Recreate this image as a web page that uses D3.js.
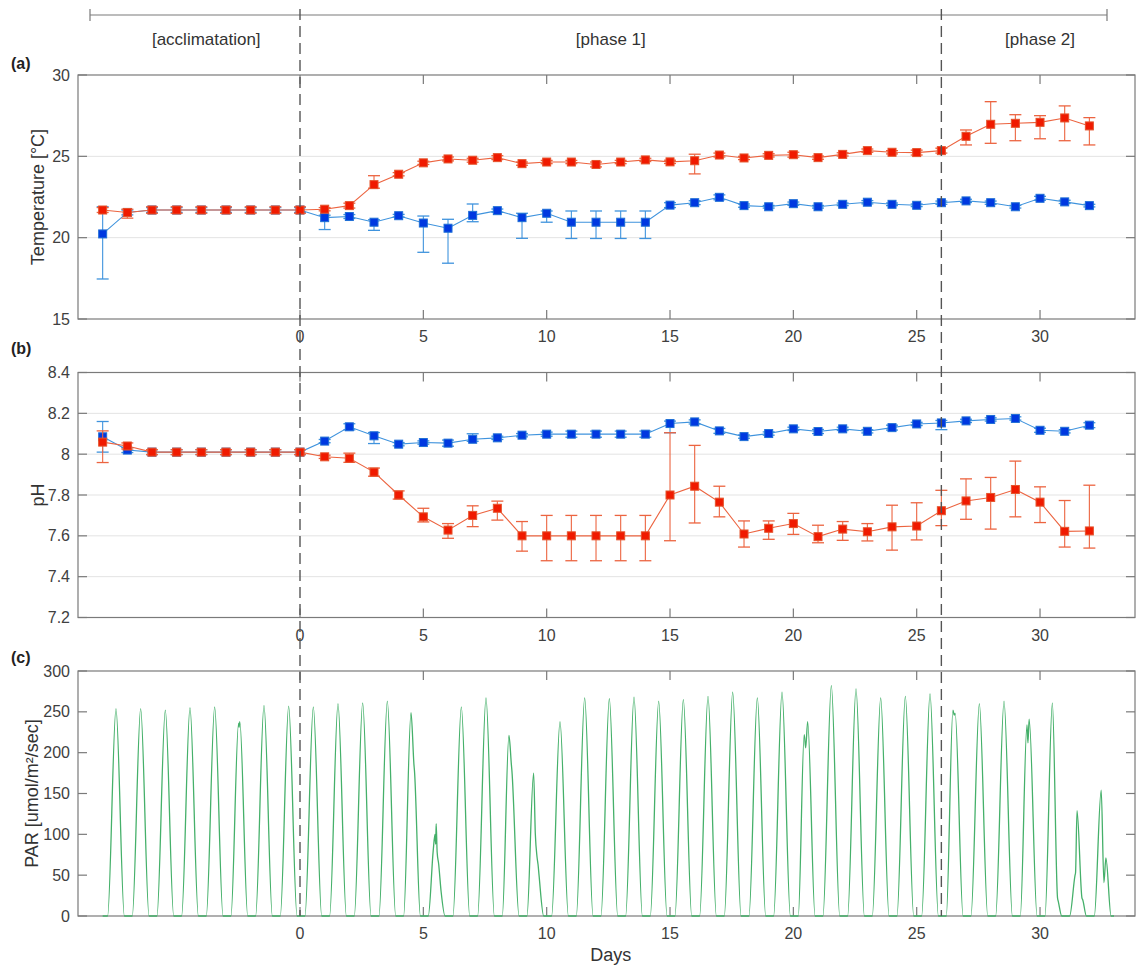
<!DOCTYPE html>
<html>
<head>
<meta charset="utf-8">
<script src="https://cdn.jsdelivr.net/npm/d3@7"></script>
<style>
  body { margin: 0; background: #fff; }
  text { font-family: "Liberation Sans", Arial, Helvetica, sans-serif; }
</style>
</head>
<body>
<script>
// ---- data ----
const days = [-8, -7, -6, -5, -4, -3, -2, -1, 0, 1, 2, 3, 4, 5, 6, 7, 8, 9, 10, 11, 12, 13, 14, 15, 16,
              17, 18, 19, 20, 21, 22, 23, 24, 25, 26, 27, 28, 29, 30, 31, 32];

// temperature, treatment (red)
const tempTreat = [21.7, 21.55, 21.7, 21.7, 21.7, 21.7, 21.7, 21.7, 21.7, 21.75, 21.97, 23.26, 23.9, 24.6, 24.84,
                   24.76, 24.92, 24.55, 24.65, 24.65, 24.5, 24.65, 24.78, 24.66, 24.73, 25.08, 24.9, 25.06, 25.1,
                   24.92, 25.12, 25.35, 25.25, 25.23, 25.35, 26.23, 26.97, 27.03, 27.09, 27.36, 26.87];
const tempTreatLo = [0.15, 0.35, 0.2, 0.2, 0.2, 0.2, 0.2, 0.2, 0.2, 0.1, 0.15, 0.22, 0.1, 0.1, 0.12, 0.12, 0.12,
                     0.1, 0.1, 0.1, 0.15, 0.1, 0.1, 0.1, 0.81, 0.12, 0.1, 0.1, 0.15, 0.1, 0.1, 0.1, 0.1, 0.15,
                     0.15, 0.53, 1.17, 1.07, 1.01, 1.4, 1.17];
const tempTreatHi = [0.15, 0.2, 0.2, 0.2, 0.2, 0.2, 0.2, 0.2, 0.2, 0.1, 0.15, 0.55, 0.1, 0.1, 0.12, 0.12, 0.12,
                     0.1, 0.1, 0.1, 0.15, 0.1, 0.1, 0.1, 0.4, 0.12, 0.1, 0.1, 0.15, 0.1, 0.1, 0.1, 0.1, 0.15,
                     0.15, 0.39, 1.39, 0.53, 0.41, 0.74, 0.51];

// temperature, control (blue)
const tempCtrl = [20.23, 21.55, 21.7, 21.7, 21.7, 21.7, 21.7, 21.7, 21.7, 21.23, 21.3, 20.95, 21.35, 20.9, 20.58,
                  21.37, 21.66, 21.23, 21.5, 20.95, 20.95, 20.95, 20.95, 22.0, 22.15, 22.48, 21.97, 21.9, 22.09,
                  21.9, 22.05, 22.18, 22.05, 21.99, 22.15, 22.26, 22.15, 21.9, 22.42, 22.2, 21.97];
const tempCtrlLo = [2.77, 0.15, 0.15, 0.15, 0.15, 0.15, 0.15, 0.15, 0.15, 0.73, 0.12, 0.5, 0.08, 1.8, 2.15, 0.39,
                    0.1, 1.27, 0.55, 1.0, 1.0, 1.0, 1.0, 0.15, 0.12, 0.15, 0.1, 0.08, 0.1, 0.08, 0.08, 0.1, 0.08,
                    0.08, 0.1, 0.1, 0.1, 0.08, 0.12, 0.1, 0.08];
const tempCtrlHi = [1.67, 0.15, 0.15, 0.15, 0.15, 0.15, 0.15, 0.15, 0.15, 0.15, 0.12, 0.15, 0.08, 0.43, 0.55, 0.7,
                    0.1, 0.27, 0.14, 0.69, 0.69, 0.69, 0.69, 0.15, 0.12, 0.15, 0.1, 0.08, 0.1, 0.08, 0.08, 0.1,
                    0.08, 0.08, 0.1, 0.1, 0.1, 0.08, 0.12, 0.1, 0.08];

// pH, treatment (red)
const phTreat = [8.059, 8.04, 8.01, 8.01, 8.01, 8.01, 8.01, 8.01, 8.01, 7.987, 7.98, 7.912, 7.80, 7.693, 7.628,
                 7.70, 7.735, 7.60, 7.60, 7.60, 7.60, 7.60, 7.60, 7.80, 7.843, 7.765, 7.609, 7.637, 7.66, 7.596,
                 7.633, 7.62, 7.644, 7.648, 7.723, 7.771, 7.788, 7.827, 7.765, 7.622, 7.624];
const phTreatLo = [0.1, 0.015, 0.012, 0.012, 0.012, 0.012, 0.012, 0.012, 0.012, 0.008, 0.02, 0.02, 0.02, 0.025,
                   0.04, 0.055, 0.058, 0.075, 0.122, 0.122, 0.122, 0.122, 0.122, 0.224, 0.18, 0.072, 0.064,
                   0.054, 0.053, 0.03, 0.055, 0.045, 0.114, 0.068, 0.073, 0.09, 0.155, 0.134, 0.1, 0.077, 0.084];
const phTreatHi = [0.055, 0.015, 0.012, 0.012, 0.012, 0.012, 0.012, 0.012, 0.012, 0.008, 0.025, 0.02, 0.02,
                   0.042, 0.032, 0.047, 0.035, 0.07, 0.10, 0.10, 0.10, 0.10, 0.10, 0.305, 0.2, 0.078, 0.064,
                   0.036, 0.05, 0.056, 0.037, 0.04, 0.106, 0.114, 0.1, 0.108, 0.098, 0.139, 0.075, 0.151, 0.224];

// pH, control (blue)
const phCtrl = [8.085, 8.02, 8.01, 8.01, 8.01, 8.01, 8.01, 8.01, 8.01, 8.064, 8.134, 8.09, 8.049, 8.057, 8.054,
                8.073, 8.08, 8.093, 8.098, 8.098, 8.098, 8.098, 8.098, 8.15, 8.158, 8.114, 8.086, 8.101, 8.124,
                8.111, 8.124, 8.112, 8.13, 8.148, 8.153, 8.163, 8.17, 8.175, 8.117, 8.112, 8.142];
const phCtrlLo = [0.075, 0.012, 0.012, 0.012, 0.012, 0.012, 0.012, 0.012, 0.012, 0.008, 0.015, 0.038, 0.008,
                  0.008, 0.015, 0.01, 0.008, 0.008, 0.01, 0.015, 0.015, 0.015, 0.015, 0.045, 0.01, 0.012, 0.008,
                  0.008, 0.008, 0.01, 0.008, 0.008, 0.012, 0.008, 0.033, 0.008, 0.008, 0.008, 0.01, 0.008, 0.012];
const phCtrlHi = [0.075, 0.012, 0.012, 0.012, 0.012, 0.012, 0.012, 0.012, 0.012, 0.008, 0.015, 0.016, 0.008,
                  0.008, 0.015, 0.027, 0.008, 0.008, 0.01, 0.015, 0.015, 0.015, 0.015, 0.012, 0.01, 0.012, 0.008,
                  0.008, 0.008, 0.01, 0.008, 0.008, 0.012, 0.008, 0.012, 0.008, 0.008, 0.008, 0.01, 0.008, 0.012];

// PAR: daily maximum, one per day
const parPeaks = [254, 254, 252, 255, 256, 238, 258, 257, 256, 260, 261, 263, 249, 113, 256, 267, 221, 175, 238,
                  267, 266, 268, 263, 265, 269, 274, 267, 274, 238, 282, 278, 267, 269, 272, 252, 260, 263, 241,
                  261, 129, 154];
// irregular days: extra readings [day, PAR]
const parDetail = new Map([
  [-3, [[-2.49, 236], [-2.47, 231], [-2.44, 238]]],
  [4,  [[4.50, 249], [4.62, 185], [4.64, 178]]],
  [5,  [[5.40, 80], [5.47, 100], [5.50, 88], [5.52, 113], [5.56, 78], [5.62, 64], [5.72, 30]]],
  [8,  [[8.47, 221], [8.57, 185], [8.59, 178]]],
  [9,  [[9.47, 175], [9.54, 100], [9.61, 72], [9.65, 63], [9.69, 50]]],
  [20, [[20.44, 222], [20.50, 206], [20.58, 238]]],
  [26, [[26.47, 252], [26.52, 246], [26.56, 248]]],
  [29, [[29.47, 234], [29.51, 212], [29.56, 241]]],
  [30, [[30.50, 261], [30.71, 22], [30.74, 18]]],
  [31, [[31.42, 50], [31.44, 53], [31.50, 129], [31.70, 22], [31.73, 20]]],
  [32, [[32.48, 154], [32.59, 41], [32.67, 71]]]
]);
const parRise = 0.20, parNoon = 0.54, parSet = 0.88;

const phases = [
  { label: "[acclimatation]", at: -3.8 },
  { label: "[phase 1]", at: 12.6 },
  { label: "[phase 2]", at: 30.0 }
];
const phaseBreaks = [0, 26];
const xTicks = [0, 5, 10, 15, 20, 25, 30];

// ---- layout ----
const width = 1137, height = 966;
const left = 78, right = 1135;
const axisCol = "#7a7a7a", textCol = "#404040";
const red = { line: "#ec6440", fill: "#f01a00", edge: "#e5532c" };
const blue = { line: "#3f93dd", fill: "#0038e0", edge: "#1f6fd6" };

const svg = d3.select("body").append("svg")
    .attr("width", width)
    .attr("height", height);

const x = d3.scaleLinear().domain([-9, 33.85]).range([left, right]);

// header with phases
let header = svg.append("g");
header.append("line")
    .attr("x1", 90).attr("x2", 1107).attr("y1", 15).attr("y2", 15)
    .attr("stroke", axisCol).attr("stroke-width", 1.2);
[90, 1107].forEach(px => {
  header.append("line")
      .attr("x1", px).attr("x2", px).attr("y1", 9).attr("y2", 21)
      .attr("stroke", axisCol).attr("stroke-width", 1.2);
});
header.selectAll(".phase")
    .data(phases)
    .enter().append("text")
    .attr("x", d => x(d.at))
    .attr("y", 45)
    .attr("text-anchor", "middle")
    .attr("font-size", 17)
    .attr("fill", "#333")
    .text(d => d.label);

function errorSeries(g, y, vals, lo, hi, col) {
  let s = g.append("g");
  s.append("path")
      .datum(days.map((d, i) => [d, vals[i]]))
      .attr("fill", "none")
      .attr("stroke", col.line)
      .attr("stroke-width", 1.1)
      .attr("d", d3.line().x(d => x(d[0])).y(d => y(d[1])));

  let eb = s.selectAll(".eb")
      .data(days.map((d, i) => ({ d: d, v: vals[i], lo: vals[i] - lo[i], hi: vals[i] + hi[i] })))
      .enter().append("g");
  eb.append("line")
      .attr("x1", d => x(d.d)).attr("x2", d => x(d.d))
      .attr("y1", d => y(d.lo)).attr("y2", d => y(d.hi))
      .attr("stroke", col.line).attr("stroke-width", 1.1);
  ["lo", "hi"].forEach(k => {
    eb.append("line")
        .attr("x1", d => x(d.d) - 6).attr("x2", d => x(d.d) + 6)
        .attr("y1", d => y(d[k])).attr("y2", d => y(d[k]))
        .attr("stroke", col.line).attr("stroke-width", 1.3);
  });
  eb.append("rect")
      .attr("x", d => x(d.d) - 4).attr("y", d => y(d.v) - 4)
      .attr("width", 8).attr("height", 8)
      .attr("fill", col.fill)
      .attr("stroke", col.edge).attr("stroke-width", 1);
}

function panel(cfg) {
  let y = d3.scaleLinear().domain(cfg.domain).range([cfg.bottom, cfg.top]);
  let g = svg.append("g");

  // grid
  g.selectAll(".grid")
      .data(cfg.grid)
      .enter().append("line")
      .attr("x1", left).attr("x2", right)
      .attr("y1", d => y(d)).attr("y2", d => y(d))
      .attr("stroke", "#e3e3e3").attr("stroke-width", 1);

  // box
  g.append("rect")
      .attr("x", left).attr("y", cfg.top)
      .attr("width", right - left).attr("height", cfg.bottom - cfg.top)
      .attr("fill", "none").attr("stroke", axisCol).attr("stroke-width", 1.2);

  // x ticks (inside, top and bottom)
  xTicks.forEach(t => {
    g.append("line").attr("x1", x(t)).attr("x2", x(t))
        .attr("y1", cfg.bottom).attr("y2", cfg.bottom - 9)
        .attr("stroke", axisCol).attr("stroke-width", 1.2);
    g.append("line").attr("x1", x(t)).attr("x2", x(t))
        .attr("y1", cfg.top).attr("y2", cfg.top + 9)
        .attr("stroke", axisCol).attr("stroke-width", 1.2);
  });
  g.selectAll(".xl")
      .data(xTicks)
      .enter().append("text")
      .attr("x", d => x(d))
      .attr("y", cfg.bottom + 23)
      .attr("text-anchor", "middle")
      .attr("font-size", 16)
      .attr("fill", textCol)
      .text(d => d);

  // y ticks (inside, left and right)
  cfg.ticks.forEach(t => {
    g.append("line").attr("x1", left).attr("x2", left + 9)
        .attr("y1", y(t)).attr("y2", y(t))
        .attr("stroke", axisCol).attr("stroke-width", 1.2);
    g.append("line").attr("x1", right).attr("x2", right - 9)
        .attr("y1", y(t)).attr("y2", y(t))
        .attr("stroke", axisCol).attr("stroke-width", 1.2);
  });
  g.selectAll(".yl")
      .data(cfg.ticks)
      .enter().append("text")
      .attr("x", left - 8)
      .attr("y", d => y(d))
      .attr("dy", "0.35em")
      .attr("text-anchor", "end")
      .attr("font-size", 16)
      .attr("fill", textCol)
      .text(d => String(d));

  // axis title
  g.append("text")
      .attr("transform", "translate(" + cfg.titleX + "," + (cfg.top + cfg.bottom) / 2 + ") rotate(-90)")
      .attr("text-anchor", "middle")
      .attr("font-size", 18)
      .attr("fill", "#333")
      .text(cfg.title);

  // panel letter
  g.append("text")
      .attr("x", 11).attr("y", cfg.letterY)
      .attr("font-size", 16)
      .attr("font-weight", "bold")
      .attr("fill", "#222")
      .text(cfg.letter);

  return { g: g, y: y };
}

// (a) temperature
let pa = panel({ top: 75, bottom: 319, domain: [15, 30], ticks: [15, 20, 25, 30], grid: [20, 25],
                 title: "Temperature [°C]", titleX: 44, letter: "(a)", letterY: 69 });
errorSeries(pa.g, pa.y, tempCtrl, tempCtrlLo, tempCtrlHi, blue);
errorSeries(pa.g, pa.y, tempTreat, tempTreatLo, tempTreatHi, red);

// (b) pH
let pb = panel({ top: 372.5, bottom: 617.5, domain: [7.2, 8.4], ticks: [7.2, 7.4, 7.6, 7.8, 8, 8.2, 8.4],
                 grid: [7.4, 7.6, 7.8, 8, 8.2], title: "pH", titleX: 44, letter: "(b)", letterY: 354 });
errorSeries(pb.g, pb.y, phCtrl, phCtrlLo, phCtrlHi, blue);
errorSeries(pb.g, pb.y, phTreat, phTreatLo, phTreatHi, red);

// (c) PAR
let pc = panel({ top: 671, bottom: 916, domain: [0, 300], ticks: [0, 50, 100, 150, 200, 250, 300], grid: [],
                 title: "PAR [umol/m²/sec]", titleX: 38, letter: "(c)", letterY: 663 });
let parPts = [[-8, 0]];
days.forEach((d, i) => {
  parPts.push([d + parRise, 0]);
  if (parDetail.has(d)) parDetail.get(d).forEach(p => parPts.push(p));
  else parPts.push([d + parNoon, parPeaks[i]]);
  parPts.push([d + parSet, 0]);
});
parPts.push([33, 0]);
pc.g.append("path")
    .datum(parPts)
    .attr("fill", "none")
    .attr("stroke", "#45b06a")
    .attr("stroke-width", 1.3)
    .attr("d", d3.line().curve(d3.curveMonotoneX).x(d => x(d[0])).y(d => pc.y(d[1])));

svg.append("text")
    .attr("x", x(12.6)).attr("y", 961)
    .attr("text-anchor", "middle")
    .attr("font-size", 18)
    .attr("fill", "#333")
    .text("Days");

// phase separators
svg.selectAll(".sep")
    .data(phaseBreaks)
    .enter().append("line")
    .attr("x1", d => x(d)).attr("x2", d => x(d))
    .attr("y1", 9).attr("y2", 916)
    .attr("stroke", "#555")
    .attr("stroke-width", 1.4)
    .attr("stroke-dasharray", "11,6");
</script>
</body>
</html>
